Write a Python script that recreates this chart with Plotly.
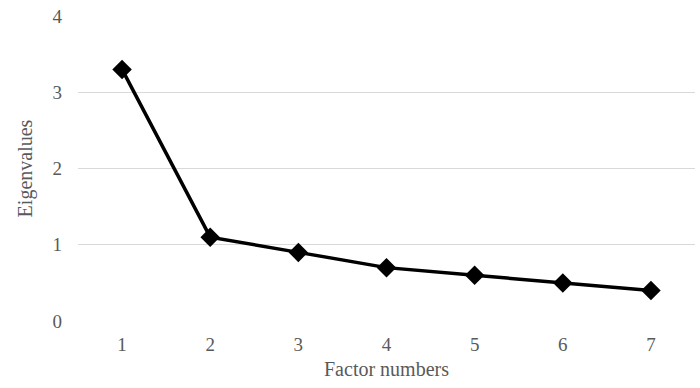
import plotly.graph_objects as go

factors = ["1", "2", "3", "4", "5", "6", "7"]
eigenvalues = [3.3, 1.1, 0.9, 0.7, 0.6, 0.5, 0.4]
y_ticks = [0, 1, 2, 3, 4]

fig = go.Figure(go.Scatter(
    x=factors, y=eigenvalues, mode="lines+markers",
    line=dict(color="black", width=3.5),
    marker=dict(symbol="diamond", size=15, color="black"),
))

font = "Liberation Serif, Times New Roman, serif"
fig.update_layout(
    width=700, height=388,
    margin=dict(l=78, r=5, t=16, b=67),
    plot_bgcolor="white", paper_bgcolor="white",
    showlegend=False,
    font=dict(family=font, size=19, color="#595959"),
)
fig.update_xaxes(
    type="category", range=[-0.5, 6.5], showgrid=False, zeroline=False,
    ticks="", ticklabelstandoff=10,
    title=dict(text="Factor numbers", font=dict(size=20), standoff=7),
)
fig.update_yaxes(
    range=[0, 4], tickvals=y_ticks, showgrid=True, gridcolor="#d9d9d9",
    gridwidth=1.3, zeroline=False, ticks="", ticklabelstandoff=15,
    title=dict(text="Eigenvalues", font=dict(size=20), standoff=14),
)
fig.write_html("out.html", config={"displayModeBar": False},
               post_script="document.body.style.margin='0';")
